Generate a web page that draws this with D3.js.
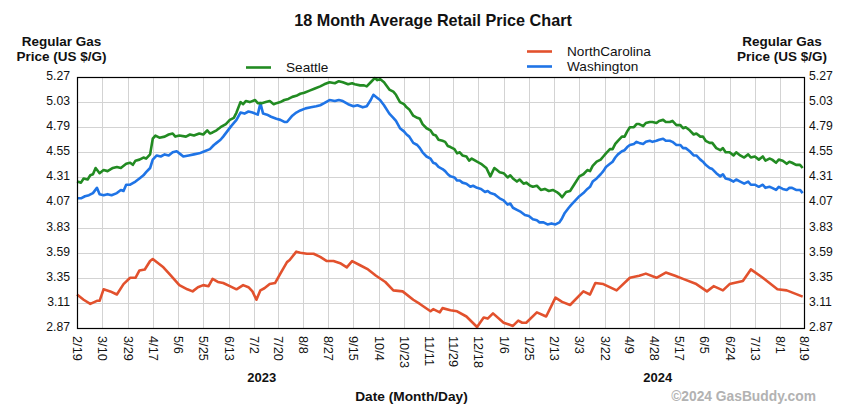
<!DOCTYPE html>
<html>
<head>
<meta charset="utf-8">
<script src="https://cdn.jsdelivr.net/npm/d3@7"></script>
<style>
  html, body { margin: 0; padding: 0; background: #ffffff; }
  svg { display: block; font-family: "Liberation Sans", Arial, sans-serif; }
</style>
</head>
<body>
<svg id="chart" width="845" height="406"></svg>
<script>
// ---------- DATA ----------
const startDate = "2023-02-19";
const endDate = "2024-08-19";

const tickDates = ["2023-02-19","2023-03-10","2023-03-29","2023-04-17","2023-05-06","2023-05-25",
  "2023-06-13","2023-07-02","2023-07-20","2023-08-08","2023-08-27","2023-09-15","2023-10-04",
  "2023-10-23","2023-11-11","2023-11-29","2023-12-18","2024-01-06","2024-01-25","2024-02-13",
  "2024-03-03","2024-03-22","2024-04-09","2024-04-28","2024-05-17","2024-06-05","2024-06-24",
  "2024-07-13","2024-08-01","2024-08-19"];

const yTicks = [5.27, 5.03, 4.79, 4.55, 4.31, 4.07, 3.83, 3.59, 3.35, 3.11, 2.87];

const yearLabels = ["2023", "2024"];
const yearLabelDates = ["2023-07-08", "2024-05-01"];

// [days since startDate, price]
const seattle = [[0,4.27],[3,4.26],[5,4.30],[8,4.29],[10,4.33],[12,4.34],[14,4.40],[17,4.35],[20,4.38],[23,4.37],
  [27,4.40],[30,4.41],[33,4.40],[37,4.44],[40,4.45],[42,4.43],[44,4.47],[47,4.48],[50,4.50],[52,4.49],
  [55,4.53],[57,4.68],[59,4.71],[62,4.69],[66,4.70],[69,4.72],[72,4.73],[74,4.70],[77,4.71],[82,4.70],
  [85,4.72],[88,4.71],[92,4.73],[95,4.72],[98,4.76],[100,4.73],[102,4.74],[105,4.76],[108,4.79],[112,4.82],
  [115,4.86],[118,4.88],[120,4.93],[123,5.03],[125,5.01],[127,5.04],[130,5.03],[134,5.05],[136,5.02],[139,5.02],
  [142,5.03],[145,5.04],[148,5.01],[150,5.02],[153,5.03],[156,5.05],[159,5.06],[162,5.08],[165,5.09],[168,5.11],
  [171,5.12],[175,5.14],[179,5.16],[183,5.18],[186,5.20],[190,5.22],[194,5.21],[197,5.23],[200,5.22],[204,5.20],
  [207,5.21],[209,5.20],[213,5.19],[216,5.19],[218,5.18],[221,5.22],[224,5.26],[226,5.24],[228,5.25],[231,5.22],
  [235,5.15],[238,5.13],[240,5.10],[243,5.03],[246,5.01],[248,4.98],[250,4.96],[253,4.90],[256,4.88],[258,4.87],
  [260,4.82],[263,4.78],[266,4.76],[268,4.72],[270,4.71],[272,4.67],[275,4.66],[277,4.65],[279,4.61],[281,4.60],
  [284,4.58],[286,4.54],[288,4.55],[290,4.52],[293,4.51],[295,4.47],[297,4.49],[301,4.46],[304,4.44],[307,4.41],
  [308,4.40],[311,4.32],[314,4.40],[316,4.38],[318,4.36],[321,4.35],[324,4.31],[326,4.33],[328,4.30],[331,4.27],
  [333,4.29],[336,4.25],[338,4.26],[341,4.23],[343,4.22],[346,4.23],[349,4.19],[352,4.20],[355,4.18],[358,4.19],
  [361,4.17],[363,4.15],[365,4.12],[368,4.17],[371,4.18],[374,4.24],[378,4.32],[381,4.34],[384,4.38],[386,4.37],
  [388,4.42],[391,4.46],[394,4.48],[396,4.51],[398,4.54],[401,4.58],[403,4.58],[405,4.63],[407,4.66],[410,4.70],
  [412,4.70],[414,4.75],[416,4.79],[419,4.79],[421,4.82],[423,4.82],[426,4.80],[428,4.83],[431,4.84],[433,4.84],
  [436,4.83],[438,4.85],[441,4.86],[443,4.84],[446,4.84],[448,4.85],[451,4.81],[454,4.81],[456,4.78],[458,4.79],
  [461,4.76],[464,4.72],[466,4.73],[469,4.70],[471,4.70],[473,4.66],[476,4.64],[478,4.64],[481,4.59],[484,4.57],
  [486,4.59],[488,4.55],[491,4.55],[494,4.52],[496,4.55],[499,4.52],[502,4.50],[505,4.53],[507,4.50],[510,4.51],
  [513,4.48],[516,4.51],[518,4.47],[521,4.49],[523,4.48],[526,4.45],[528,4.48],[531,4.47],[534,4.44],[536,4.46],
  [538,4.45],[541,4.43],[544,4.43],[546,4.40]];

const washington = [[0,4.11],[3,4.11],[6,4.13],[9,4.14],[12,4.16],[15,4.21],[17,4.15],[20,4.14],[23,4.15],[26,4.14],
  [30,4.16],[33,4.19],[35,4.18],[37,4.24],[40,4.24],[44,4.27],[47,4.30],[50,4.33],[52,4.36],[55,4.40],
  [57,4.48],[60,4.52],[63,4.51],[66,4.53],[69,4.52],[72,4.55],[75,4.56],[78,4.53],[80,4.51],[84,4.52],
  [88,4.53],[92,4.54],[96,4.56],[100,4.58],[103,4.62],[105,4.64],[108,4.67],[110,4.70],[113,4.75],[116,4.80],
  [120,4.86],[123,4.93],[126,4.92],[129,4.94],[132,4.93],[136,4.91],[138,5.02],[140,4.92],[143,4.91],[146,4.89],
  [150,4.87],[153,4.86],[156,4.84],[158,4.84],[162,4.90],[165,4.93],[168,4.95],[172,4.97],[176,4.98],[180,4.99],
  [183,5.00],[186,5.02],[190,5.05],[194,5.04],[197,5.05],[200,5.04],[204,5.01],[208,4.99],[211,5.00],[215,4.98],
  [218,4.99],[221,5.05],[223,5.10],[226,5.07],[228,5.05],[231,5.00],[235,4.92],[238,4.88],[240,4.85],[243,4.78],
  [246,4.75],[248,4.72],[250,4.70],[253,4.64],[256,4.62],[258,4.59],[260,4.55],[263,4.51],[266,4.49],[268,4.45],
  [270,4.44],[272,4.41],[275,4.39],[277,4.37],[279,4.34],[281,4.32],[284,4.31],[286,4.28],[288,4.28],[290,4.26],
  [293,4.25],[296,4.22],[298,4.23],[301,4.21],[304,4.20],[307,4.17],[309,4.18],[311,4.16],[314,4.15],[316,4.13],
  [318,4.11],[321,4.09],[324,4.05],[326,4.06],[328,4.02],[331,4.00],[334,3.98],[337,3.95],[340,3.94],[343,3.91],
  [346,3.90],[348,3.88],[351,3.88],[354,3.86],[357,3.87],[360,3.86],[363,3.88],[365,3.92],[367,3.97],[370,4.02],
  [372,4.05],[375,4.09],[378,4.13],[381,4.16],[384,4.20],[386,4.22],[388,4.27],[391,4.30],[394,4.34],[396,4.37],
  [398,4.41],[401,4.44],[403,4.46],[405,4.50],[407,4.53],[410,4.56],[412,4.57],[414,4.60],[416,4.62],[419,4.63],
  [421,4.65],[423,4.64],[426,4.63],[428,4.65],[431,4.66],[433,4.65],[436,4.66],[438,4.67],[441,4.68],[443,4.66],
  [446,4.66],[448,4.65],[451,4.62],[454,4.62],[456,4.59],[458,4.59],[461,4.56],[464,4.52],[466,4.52],[469,4.48],
  [471,4.46],[473,4.43],[476,4.40],[478,4.39],[481,4.35],[484,4.32],[486,4.34],[488,4.30],[491,4.29],[494,4.27],
  [496,4.29],[499,4.27],[502,4.25],[505,4.27],[507,4.24],[510,4.24],[513,4.22],[516,4.24],[518,4.21],[521,4.22],
  [523,4.21],[526,4.19],[528,4.22],[531,4.20],[534,4.19],[536,4.21],[538,4.21],[541,4.19],[544,4.19],[546,4.16]];

const northCarolina = [[0,3.19],[5,3.14],[10,3.10],[15,3.13],[17,3.13],[20,3.24],[25,3.22],[30,3.19],[35,3.29],[40,3.35],
  [44,3.35],[47,3.42],[51,3.43],[55,3.51],[57,3.53],[65,3.45],[70,3.38],[77,3.28],[83,3.24],[87,3.22],
  [91,3.26],[95,3.28],[99,3.27],[102,3.34],[106,3.31],[110,3.30],[115,3.27],[120,3.24],[125,3.28],[129,3.26],
  [132,3.22],[135,3.14],[138,3.23],[141,3.25],[145,3.29],[149,3.30],[153,3.39],[158,3.50],[160,3.52],[165,3.60],
  [168,3.59],[173,3.58],[178,3.58],[183,3.55],[188,3.51],[193,3.51],[198,3.49],[203,3.45],[207,3.51],[213,3.47],
  [219,3.43],[225,3.37],[232,3.31],[238,3.23],[245,3.22],[253,3.14],[258,3.10],[266,3.03],[268,3.05],[273,3.02],
  [275,3.06],[281,3.04],[286,3.03],[293,2.98],[301,2.88],[306,2.97],[309,2.96],[313,3.01],[321,2.92],[328,2.89],
  [332,2.94],[335,2.92],[338,2.92],[346,3.02],[353,2.98],[360,3.16],[365,3.12],[371,3.09],[381,3.22],[386,3.19],
  [390,3.30],[396,3.29],[406,3.23],[416,3.35],[423,3.37],[428,3.39],[436,3.35],[443,3.40],[450,3.37],[456,3.34],
  [466,3.29],[474,3.22],[479,3.27],[486,3.23],[491,3.29],[501,3.32],[507,3.43],[516,3.35],[527,3.24],[534,3.23],
  [546,3.17]];

const seriesNames = ["Seattle", "NorthCarolina", "Washington"];
const seriesColors = ["#228b22", "#e2512d", "#1f74e6"];

// ---------- CHART ----------
const parse = d3.timeParse("%Y-%m-%d");
const fmt = d3.timeFormat("%-m/%-d");
const start = parse(startDate);
const FONT = "'Liberation Sans', Arial, sans-serif";

const M = { left: 77, right: 804, top: 77, bottom: 328 };
const svg = d3.select("#chart");

const x = d3.scaleTime().domain([start, parse(endDate)]).range([M.left, M.right]);
const y = d3.scaleLinear().domain([2.87, 5.27]).range([M.bottom, M.top]);

// grid
const grid = svg.append("g");
grid.selectAll("line.v").data(tickDates.map(parse)).enter().append("line")
  .attr("x1", d => Math.round(x(d)) + 0.5).attr("x2", d => Math.round(x(d)) + 0.5)
  .attr("y1", M.top).attr("y2", M.bottom)
  .attr("stroke", "#d3d3d3").attr("stroke-width", 1);
grid.selectAll("line.h").data(yTicks).enter().append("line")
  .attr("x1", M.left).attr("x2", M.right)
  .attr("y1", d => Math.round(y(d)) + 0.5).attr("y2", d => Math.round(y(d)) + 0.5)
  .attr("stroke", "#d3d3d3").attr("stroke-width", 1);

// lines
const series = [seattle, northCarolina, washington].map(arr =>
  arr.map(([d, v]) => ({ date: d3.timeDay.offset(start, d), v })));
const line = d3.line().x(d => x(d.date)).y(d => y(d.v)).curve(d3.curveLinear);
[1, 2, 0].forEach(i => {
  svg.append("path").datum(series[i])
    .attr("d", line)
    .attr("fill", "none")
    .attr("stroke", seriesColors[i])
    .attr("stroke-width", 2.6)
    .attr("stroke-linejoin", "round");
});

// frame
svg.append("rect")
  .attr("x", M.left + 0.5).attr("y", M.top + 0.5)
  .attr("width", M.right - M.left).attr("height", M.bottom - M.top)
  .attr("fill", "none").attr("stroke", "#000").attr("stroke-width", 1.2);

// y axes labels (left & right)
const yLeft = d3.axisLeft(y).tickValues(yTicks).tickFormat(d3.format(".2f")).tickSize(0).tickPadding(7);
const gl = svg.append("g").attr("transform", `translate(${M.left},-1.5)`).call(yLeft);
const yRight = d3.axisRight(y).tickValues(yTicks).tickFormat(d3.format(".2f")).tickSize(0).tickPadding(5);
const gr = svg.append("g").attr("transform", `translate(${M.right},-1.5)`).call(yRight);
[gl, gr].forEach(g => {
  g.select(".domain").remove();
  g.selectAll("text").attr("font-size", 12.2).attr("fill", "#111").attr("font-family", FONT);
});

// x axis labels (rotated)
const xAxis = d3.axisBottom(x).tickValues(tickDates.map(parse)).tickFormat(fmt).tickSize(0);
const gx = svg.append("g").attr("transform", `translate(0,${M.bottom})`).call(xAxis);
gx.select(".domain").remove();
gx.selectAll("text")
  .attr("font-size", 12.8).attr("fill", "#111").attr("font-family", FONT)
  .attr("text-anchor", "start")
  .attr("transform", "rotate(90)")
  .attr("x", 8).attr("y", 0).attr("dy", "0.35em");

// year labels
svg.selectAll("text.year").data(yearLabels).enter().append("text")
  .attr("class", "year")
  .attr("x", (d, i) => x(parse(yearLabelDates[i])))
  .attr("y", 381.5)
  .attr("text-anchor", "middle")
  .attr("font-size", 13).attr("font-weight", "bold").attr("fill", "#111")
  .text(d => d);

// title
svg.append("text").attr("x", 433).attr("y", 25.5).attr("text-anchor", "middle")
  .attr("font-size", 16.2).attr("font-weight", "bold").attr("fill", "#111")
  .text("18 Month Average Retail Price Chart");

// axis titles
[[61.5, "Regular Gas", "Price (US $/G)"], [782, "Regular Gas", "Price (US $/G)"]].forEach(([cx, l1, l2]) => {
  const t = svg.append("text").attr("text-anchor", "middle")
    .attr("font-size", 13.5).attr("font-weight", "bold").attr("fill", "#111");
  t.append("tspan").attr("x", cx).attr("y", 45.5).text(l1);
  t.append("tspan").attr("x", cx).attr("y", 60.5).text(l2);
});

svg.append("text").attr("x", 411.5).attr("y", 401).attr("text-anchor", "middle")
  .attr("font-size", 13.7).attr("font-weight", "bold").attr("fill", "#111")
  .text("Date (Month/Day)");

svg.append("text").attr("x", 816).attr("y", 401).attr("text-anchor", "end")
  .attr("font-size", 13.8).attr("font-weight", "bold").attr("fill", "#b2b2b2")
  .text("©2024 GasBuddy.com");

// legend
const legendPos = [[246, 67.5], [527, 51.5], [527, 66.5]];
seriesNames.forEach((name, i) => {
  const [lx, ly] = legendPos[i];
  svg.append("line").attr("x1", lx).attr("x2", lx + 25).attr("y1", ly).attr("y2", ly)
    .attr("stroke", seriesColors[i]).attr("stroke-width", 2.6);
  svg.append("text").attr("x", lx + 40).attr("y", ly + 4)
    .attr("font-size", 13.6).attr("fill", "#111").text(name);
});
</script>
</body>
</html>
